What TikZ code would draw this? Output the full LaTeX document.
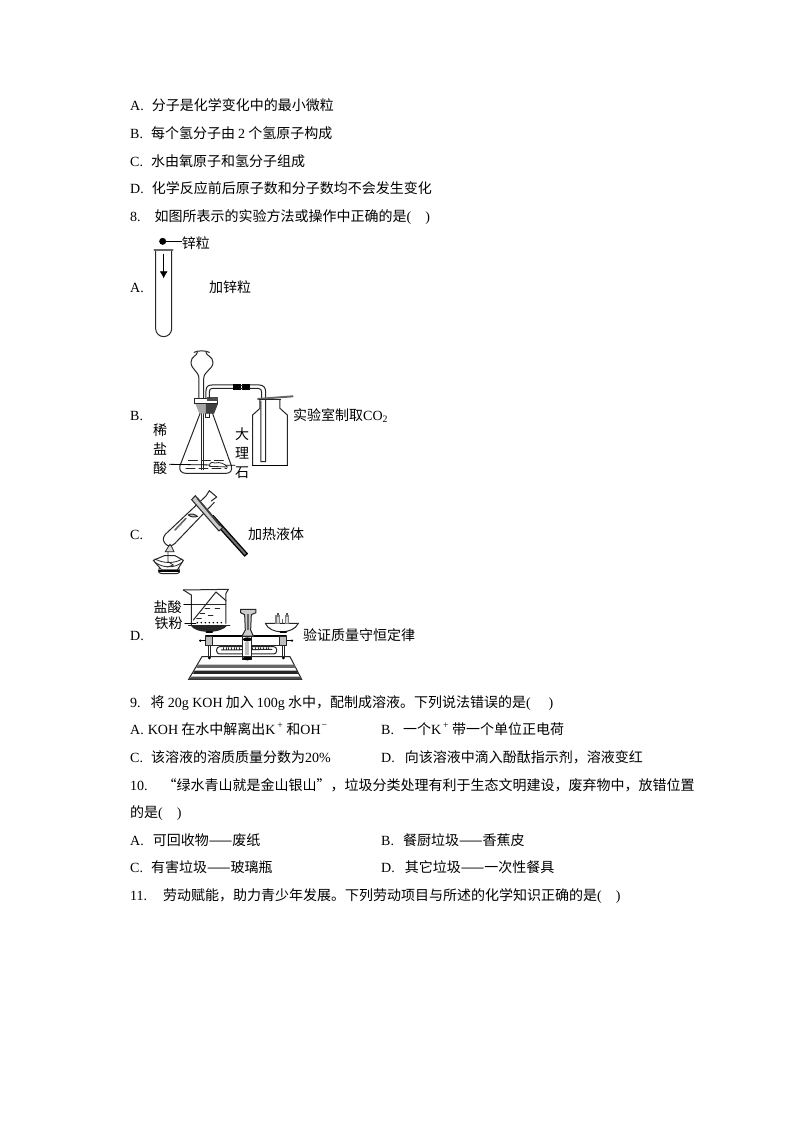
\documentclass[tikz,border=0pt]{standalone}
\usepackage{fontspec}
\usetikzlibrary{arrows.meta}
\setmainfont{Noto Sans CJK SC}
\newfontfamily\lat{Liberation Serif}
\newcommand{\la}[1]{{\lat #1}}
\tikzset{
  txt/.style={anchor=base west,inner sep=0pt,font=\fontsize{14}{16}\selectfont},
  part/.style={line width=0.8pt,black!85},
  glass/.style={line width=1pt,black!85},
  leader/.style={line width=0.8pt,black},
  zoomed/.style={x=0.3333pt,y=-0.3333pt}
}
\begin{document}
\begin{tikzpicture}[x=1pt,y=-1pt,cap=round,>=latex]
  \useasboundingbox (0,0) rectangle (794,1123);
  \fill[white] (0,0) rectangle (794,1123);

  % text above the figures
  \node[txt] (q7a) at (130,111) {\la{A.}\hspace{8pt}分子是化学变化中的最小微粒};
  \node[txt] (q7b) at (130,139) {\la{B.}\hspace{8pt}每个氢分子由 \la{2} 个氢原子构成};
  \node[txt] (q7c) at (130,167) {\la{C.}\hspace{8pt}水由氧原子和氢分子组成};
  \node[txt] (q7d) at (130,194) {\la{D.}\hspace{8pt}化学反应前后原子数和分子数均不会发生变化};
  \node[txt] (q8) at (130,222) {\la{8.}\hspace{14pt}如图所表示的实验方法或操作中正确的是\la{(\hspace{14pt})}};

  % option A
  \node[txt] (optA) at (130,292) {\la{A.}};
  \node[txt] (capA) at (209,292) {加锌粒};
  \begin{scope}[shift={(120,230)},zoomed]
    \draw[glass] (107,60) -- (107,296) arc[start angle=180,end angle=0,radius=24] -- (155,60);
    \draw[line width=1.8pt,black!60] (103,59) -- (158,59);
    \draw[leader,-{Latex[length=7pt,width=8pt]}] (131,73) -- (131,145);
    \node[circle,fill=black,inner sep=0pt,minimum size=7pt] (zinc) at (128,34) {};
    \node[txt] (zinclabel) at (185,55) {锌粒};
    \draw[leader] (zinc) -- (zinclabel.base west |- zinc);
  \end{scope}

  % option B
  \node[txt] (optB) at (130,420) {\la{B.}};
  \node[txt] (capB) at (293,420) {实验室制取\la{CO\textsubscript{2}}};
  \begin{scope}[shift={(120,345)},zoomed]
    % funnel
    \draw[glass] (222,22) .. controls (235,16) and (255,16) .. (268,22);
    \draw[glass] (232,22) .. controls (232,32) and (213,34) .. (213,52) .. controls (213,74) and (237,78) .. (237,102) -- (237,160);
    \draw[glass] (258,22) .. controls (258,32) and (279,34) .. (279,52) .. controls (279,74) and (251,78) .. (251,102) -- (251,160);
    \draw[glass] (244,205) -- (244,374);
    \draw[glass] (251,205) -- (251,374);
    % stopper
    \fill[black!35] (226,176) -- (294,176) -- (282,206) -- (238,206) -- cycle;
    \fill[black!75] (258,176) -- (294,176) -- (282,206) -- (258,206) -- cycle;
    \draw[glass,fill=white] (224,160) rectangle (294,176);
    \fill[black!70] (262,157) rectangle (294,167);
    \draw[glass] (258,206) -- (258,218) -- (270,218) -- (270,206);
    % flask
    \draw[glass] (240,206) -- (180,362) .. controls (176,378) and (186,385) .. (198,385) -- (318,385) .. controls (330,385) and (338,378) .. (334,362) -- (278,206);
    \draw[glass,dash pattern=on 9pt off 4pt] (205,348) -- (310,348);
    \draw[glass,dash pattern=on 9pt off 4pt] (198,370) -- (320,370);
    \draw[leader] (148,358) -- (345,361);
    \draw[part,fill=white] (268,364) .. controls (268,350) and (280,350) .. (286,354) .. controls (300,350) and (314,356) .. (322,366) -- cycle;
    % delivery tube
    \draw[glass] (258,160) -- (258,138) .. controls (258,125) and (264,120) .. (276,120) -- (340,120);
    \draw[glass] (268,160) -- (268,140) .. controls (268,133) and (272,130) .. (278,130) -- (340,130);
    \fill[black] (338,118) rectangle (362,134);
    \fill[black] (366,118) rectangle (390,134);
    \draw[glass] (360,121) -- (368,121);
    \draw[glass] (360,131) -- (368,131);
    \draw[glass] (390,120) -- (418,120) .. controls (430,120) and (437,128) .. (437,140) -- (437,350) -- (423,350) -- (423,168);
    \draw[glass] (390,130) -- (415,130) .. controls (422,130) and (425,136) .. (425,142) -- (425,160);
    % gas bottle
    \draw[line width=2pt,black!60] (414,162) -- (518,154);
    \draw[glass] (418,165) -- (482,165);
    \draw[glass] (420,165) -- (420,190) -- (398,210) -- (398,361);
    \draw[glass] (480,165) -- (480,190) -- (502,210) -- (502,361);
    \draw[line width=1.5pt,black] (398,361) -- (502,361);
  \end{scope}
  \node[txt,align=center,font=\fontsize{14}{19}\selectfont,anchor=north] (acid) at (160,424) {稀\\盐\\酸};
  \node[txt,align=center,font=\fontsize{14}{19}\selectfont,anchor=north] (marble) at (242,428) {大\\理\\石};

  % option C
  \node[txt] (optC) at (130,539) {\la{C.}};
  \node[txt] (capC) at (248,539) {加热液体};
  \begin{scope}[shift={(120,485)},zoomed]
    % tube
    \draw[glass] (258,33) -- (136,148) .. controls (128,158) and (128,168) .. (136,176) .. controls (144,186) and (154,184) .. (164,176) -- (283,52);
    \draw[glass,fill=white] (258,33) -- (268,17) -- (290,36) -- (274,48);
    \draw[glass,fill=black!25] (205,90) .. controls (212,84) and (226,88) .. (232,94) .. controls (224,98) and (212,96) .. (205,90);
    \draw[line width=1.6pt,black!60] (165,135) -- (198,100);
    % holder
    \draw[line width=1.2pt,black,fill=black!55] (280,92) -- (382,206) -- (374,213) -- (272,100) -- cycle;
    \draw[glass,fill=black!20] (226,32) -- (308,128) -- (297,138) -- (215,44) -- cycle;
    \draw[line width=1.6pt,black!75] (232,40) -- (300,122);
    % lamp
    \draw[part,fill=black!15] (136,200) .. controls (140,190) and (146,186) .. (150,178) .. controls (154,186) and (160,190) .. (162,200) -- cycle;
    \draw[glass,fill=white] (133,212) -- (165,212) -- (190,226) -- (172,255) -- (125,255) -- (100,226) -- cycle;
    \draw[part] (105,232) .. controls (130,250) and (165,250) .. (186,232);
    \draw[part] (105,222) .. controls (130,236) and (165,236) .. (186,222);
    \draw[part] (144,200) -- (144,230) -- (160,240) -- (142,246);
    \draw[line width=1.4pt,black] (118,258) -- (176,258);
    \draw[glass] (118,250) .. controls (112,262) and (118,266) .. (130,266) -- (165,266) .. controls (178,266) and (182,262) .. (176,250);
  \end{scope}

  % option D
  \node[txt] (optD) at (130,640) {\la{D.}};
  \node[txt] (capD) at (303,640) {验证质量守恒定律};
  \begin{scope}[shift={(120,580)},zoomed]
    % beaker
    \draw[glass] (190,30) -- (325,28) -- (318,40) -- (318,130);
    \draw[glass] (190,30) -- (214,45) -- (214,135);
    \draw[glass] (214,72) -- (318,72);
    \draw[glass] (220,120) -- (288,36) -- (318,62);
    \foreach \px/\py in {255/85,285/85,240/100,265/105,230/115}
      \draw[part] (\px,\py) -- +(14,0);
    \foreach \px in {232,244,...,304}
      \fill[black] (\px,128) circle(0.9pt);
    % labels
    \node[txt] (hcl) at (100,96) {盐酸};
    \node[txt] (fe) at (103,146) {铁粉};
    \coordinate (hclend) at (214,72);
    \coordinate (feend) at (228,130);
    \draw[leader] (hcl.east |- hclend) ++(6,0) -- (hclend);
    \draw[leader] (fe.east |- feend) ++(6,0) -- (feend);
    % left pan
    \fill[black!85] (212,136) .. controls (225,162) and (305,162) .. (322,136) -- cycle;
    \draw[glass] (205,136) -- (330,136);
    % right pan
    \draw[glass] (436,130) -- (535,130) .. controls (520,164) and (450,164) .. (436,130);
    \foreach \px in {473,501} {
      \fill[black!50] (\px-7,104) rectangle (\px+7,132);
      \fill[black!15] (\px-3,112) rectangle (\px+3,130);
      \fill[black!70] (\px-3,100) rectangle (\px+3,106);
    }
    \fill[black!60] (486,118) rectangle (490,130);
    % beam
    \draw[line width=2.4pt,black] (258,168) -- (498,168);
    \draw[glass] (258,196) -- (498,196);
    % pointer
    \draw[glass,fill=black!20] (362,88) -- (408,88) -- (408,98) -- (394,104) -- (392,150) -- (400,168) -- (366,168) -- (376,150) -- (374,104) -- (362,98) -- cycle;
    \fill[black!60] (381,102) rectangle (386,150);
    % hangers
    \foreach \px in {268,490} {
      \draw[glass,fill=black!25] (\px-11,168) rectangle (\px+11,198);
      \draw[glass] (\px-3,198) -- (\px-3,232);
      \draw[glass] (\px+3,198) -- (\px+3,232);
      \fill[black] (\px,234) circle(1.5pt);
      \draw[line width=1.4pt] (\px-9,156) -- (\px+9,156);
    }
    \draw[line width=1.3pt] (241,182) -- (256,182);
    \draw[line width=1.3pt] (502,182) -- (516,182);
    \fill[black] (241,182) circle(1.3pt);
    \fill[black] (516,182) circle(1.3pt);
    % ruler
    \draw[glass,rounded corners=3pt,fill=white] (290,200) rectangle (470,222);
    \draw[glass] (304,210) -- (456,208);
    \foreach \px in {310,318,...,450}
      \draw[part] (\px,203) -- (\px,209);
    % column
    \draw[glass,fill=white] (368,170) rectangle (396,240);
    \fill[black] (382,178) ellipse (4.5pt and 2pt);
    \fill[black!25] (376,186) rectangle (388,226);
    \fill[black] (382,235) ellipse (4.5pt and 2pt);
    % base
    \draw[glass] (246,230) -- (510,230) -- (545,298) -- (206,298) -- cycle;
    \fill[black!60] (234,254) -- (522,254) -- (527,264) -- (229,264) -- cycle;
    \fill[black!85] (224,272) -- (530,272) -- (535,282) -- (219,282) -- cycle;
    \fill[black!70] (215,290) -- (540,290) -- (545,298) -- (206,298) -- cycle;
  \end{scope}

  % text below the figures
  \node[txt] (q9) at (130,707) {\la{9.}\hspace{10pt}将 \la{20g KOH} 加入 \la{100g} 水中，配制成溶液。下列说法错误的是\la{(\hspace{18pt})}};
  \node[txt] (q9a) at (130,734) {\la{A.\hspace{4pt}KOH} 在水中解离出\la{K\hspace{2pt}\textsuperscript{+}}\hspace{3pt}和\la{OH\hspace{1pt}\textsuperscript{−}}};
  \node[txt] (q9b) at (381,734) {\la{B.}\hspace{9pt}一个\la{K\hspace{2pt}\textsuperscript{+}}\hspace{3pt}带一个单位正电荷};
  \node[txt] (q9c) at (130,762) {\la{C.}\hspace{8pt}该溶液的溶质质量分数为\la{20\%}};
  \node[txt] (q9d) at (381,762) {\la{D.}\hspace{10pt}向该溶液中滴入酚酞指示剂，溶液变红};
  \node[txt] (q10) at (130,790) {\la{10.}\hspace{15pt}“绿水青山就是金山银山”，垃圾分类处理有利于生态文明建设，废弃物中，放错位置};
  \node[txt] (q10cont) at (130,817) {的是\la{(\hspace{14pt})}};
  \node[txt] (q10a) at (130,845) {\la{A.}\hspace{9pt}可回收物——废纸};
  \node[txt] (q10b) at (381,845) {\la{B.}\hspace{9pt}餐厨垃圾——香蕉皮};
  \node[txt] (q10c) at (130,872) {\la{C.}\hspace{8pt}有害垃圾——玻璃瓶};
  \node[txt] (q10d) at (381,872) {\la{D.}\hspace{10pt}其它垃圾——一次性餐具};
  \node[txt] (q11) at (130,900) {\la{11.}\hspace{16pt}劳动赋能，助力青少年发展。下列劳动项目与所述的化学知识正确的是\la{(\hspace{14pt})}};
\end{tikzpicture}
\end{document}
